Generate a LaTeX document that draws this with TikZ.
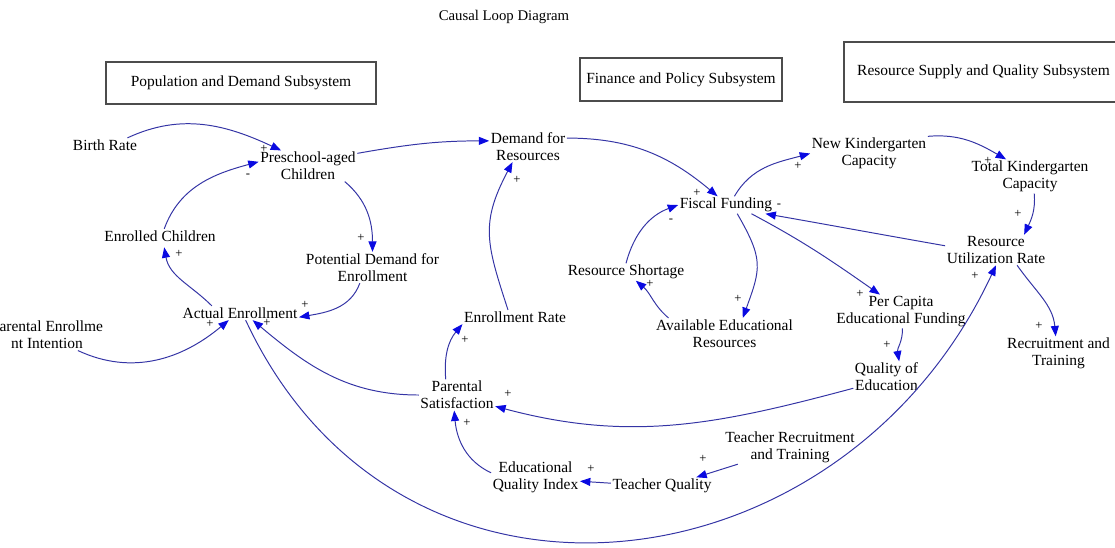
\documentclass[tikz,border=0pt]{standalone}
\usepackage{fontspec}
\setmainfont{Liberation Serif}
\usetikzlibrary{arrows.meta}
\definecolor{linkblue}{RGB}{52,52,165}
\definecolor{headblue}{RGB}{10,10,225}
\tikzstyle{var}=[align=center,inner sep=1pt,font=\fontsize{11}{12}\selectfont]
\tikzstyle{subsys}=[rectangle,draw=black!70,line width=1pt,font=\fontsize{11}{12}\selectfont]
\tikzstyle{link}=[draw=linkblue,line width=0.7pt,-{Triangle[length=2.6mm,width=2mm,color=headblue]}]
\tikzstyle{polarity}=[inner sep=0pt,font=\fontsize{9}{9}\selectfont]

\begin{document}
\begin{tikzpicture}[x=0.025cm,y=0.025cm]
  \useasboundingbox (0,0) rectangle (1115,-547);

  \node[font=\fontsize{10.5}{12}\selectfont] (title) at (504,-17) {Causal Loop Diagram};
  \node[subsys,minimum width=6.75cm,minimum height=1.05cm] (pop) at (241,-83) {Population and Demand Subsystem};
  \node[subsys,minimum width=5.05cm,minimum height=1.075cm] (fin) at (681,-79.5) {Finance and Policy Subsystem};
  \node[subsys,minimum width=6.975cm,minimum height=1.5cm] (res) at (983.5,-72) {Resource Supply and Quality Subsystem};

  % variables
  \node[var] (birth) at (105,-145) {Birth Rate};
  \node[var] (pre) at (308,-166) {Preschool-aged\\Children};
  \node[var] (dem) at (528,-146.5) {Demand for\\Resources};
  \node[var] (fis) at (726,-205) {Fiscal Funding};
  \node[var] (nk) at (869,-153.5) {New Kindergarten\\Capacity};
  \node[var] (tk) at (1030,-176.5) {Total Kindergarten\\Capacity};
  \node[var] (util) at (996,-250) {Resource\\Utilization Rate};
  \node[var] (enr) at (160,-236) {Enrolled Children};
  \node[var] (pot) at (372.5,-267.5) {Potential Demand for\\Enrollment};
  \node[var] (sho) at (626,-272) {Resource Shortage};
  \node[var] (act) at (240,-313) {Actual Enrollment};
  \node[var] (rate) at (515,-317) {Enrollment Rate};
  \node[var] (ava) at (724.5,-333.5) {Available Educational\\Resources};
  \node[var] (pc) at (901,-311.5) {Per Capita\\Educational Funding};
  \node[var] (int) at (47,-335) {Parental Enrollme\\nt Intention};
  \node[var] (rt) at (1058.5,-353.5) {Recruitment and\\Training};
  \node[var] (qe) at (886.5,-377) {Quality of\\Education};
  \node[var] (sat) at (457,-395) {Parental\\Satisfaction};
  \node[var] (tr) at (790,-447) {Teacher Recruitment\\and Training};
  \node[var] (eqi) at (535.5,-477) {Educational\\Quality Index};
  \node[var] (tq) at (662,-486) {Teacher Quality};

  % links
  \draw[link] ([xshift=-8pt]birth.north east) to[out=25,in=155] ([xshift=16pt]pre.north west);
  \draw[link] ([xshift=3pt]enr.north) to[out=70,in=195] ([yshift=3pt]pre.west);
  \draw[link] ([yshift=9pt]pre.east) to[out=10,in=180] ([yshift=4pt]dem.west);
  \draw[link] ([xshift=-9pt]pre.south east) to[out=-40,in=90] (pot.north);
  \draw[link] ([xshift=-9pt]pot.south) to[out=-110,in=10] ([yshift=-3pt]act.east);
  \draw[link] ([xshift=-20pt]act.north) to[out=135,in=-80] ([xshift=3pt,yshift=-3pt]enr.south);
  \draw[link] ([xshift=22pt]int.south) to[out=-25,in=220] ([xshift=-8pt]act.south);
  \draw[link] (sat.west) to[out=180,in=-40] ([xshift=9pt]act.south);
  \draw[link] ([xshift=4pt]act.south) to[out=-65,in=-115,looseness=1.24] (util.south);
  \draw[link] ([xshift=-5pt]rate.north) to[out=108,in=-118,looseness=1.2] ([xshift=-11pt]dem.south);
  \draw[link] ([xshift=-8pt]sat.north) to[out=95,in=-130] (rate.south west);
  \draw[link] ([yshift=6pt]dem.east) to[out=0,in=140] ([xshift=-6pt]fis.north);
  \draw[link] (sho.north) to[out=75,in=200] (fis.west);
  \draw[link] ([xshift=8pt]fis.south) to[out=-60,in=70,looseness=1.3] ([xshift=13pt]ava.north);
  \draw[link] ([xshift=10pt]ava.north west) to[out=140,in=-40] ([xshift=7pt]sho.south);
  \draw[link] ([xshift=6pt]fis.north) to[out=60,in=195] (nk.west);
  \draw[link] (nk.north east) to[out=5,in=150] ([xshift=-17pt]tk.north);
  \draw[link] ([xshift=3pt]tk.south) to[out=-85,in=65] ([xshift=20pt]util.north);
  \draw[link] ([yshift=3pt]util.west) to[out=170,in=-10] ([xshift=-6pt]fis.south east);
  \draw[link] ([xshift=-16pt]fis.south east) to[out=-28,in=145] ([xshift=-15pt]pc.north);
  \draw[link] ([xshift=1pt]pc.south) to[out=-88,in=100] ([xshift=9pt]qe.north);
  \draw[link] ([yshift=-8pt]qe.west) to[out=195,in=-15] ([yshift=-8pt]sat.east);
  \draw[link] ([xshift=15pt]util.south) to[out=-55,in=95] ([xshift=-2pt]rt.north);
  \draw[link] ([xshift=10pt]tr.south west) -- ([xshift=-12pt]tq.north east);
  \draw[link] ([yshift=2pt]tq.west) -- ([yshift=-3pt]eqi.east);
  \draw[link] ([yshift=3pt]eqi.west) to[out=155,in=-85] ([xshift=-2pt]sat.south);

  % polarities
  \foreach \px/\py/\sgn [count=\i] in {264/149/+, 248/176/-, 361/238/+, 305/305/+, 179/254/+,
      210/324/+, 267/323/+, 975/276/+, 517/180/+, 465/340/+, 697/193/+, 671/221/-,
      738/299/+, 650/284/+, 798/166/+, 988/161/+, 1018/214/+, 779/206/-, 860/294/+,
      887/345/+, 508/394/+, 1039/326/+, 703/459/+, 591/469/+, 467/423/+}
    \node[polarity] (sign\i) at (\px,-\py) {\sgn};
\end{tikzpicture}
\end{document}
